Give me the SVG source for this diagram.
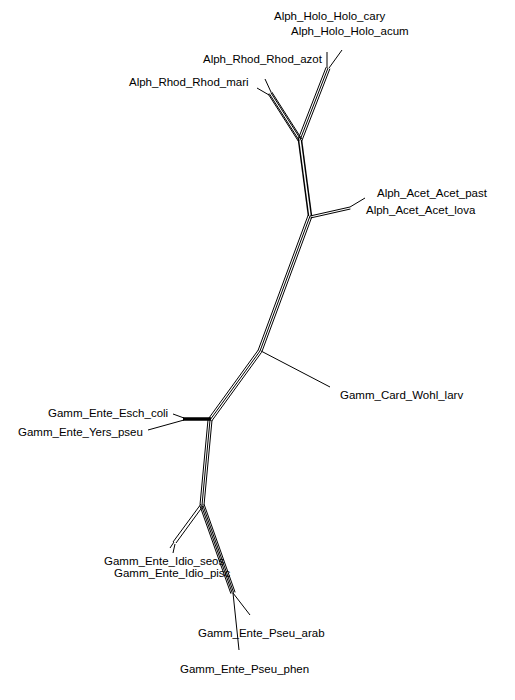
<svg xmlns="http://www.w3.org/2000/svg" width="515" height="700" viewBox="0 0 515 700">
<style>
.e{stroke:#000;stroke-width:1;fill:none}
.t{stroke:#000;stroke-width:1.5;fill:none}
.k{stroke:#000;stroke-width:3.5;fill:none}
text{font-family:"Liberation Sans",Arial,sans-serif;font-size:11.5px;fill:#000}
</style>
<rect width="515" height="700" fill="#fff"/>
<g id="connectors">
<!-- Holo bundle -->
<line class="e" x1="298.1" y1="139.3" x2="326.1" y2="67.3"/>
<line class="e" x1="300" y1="140" x2="328" y2="68"/>
<line class="e" x1="301.9" y1="140.7" x2="329.9" y2="68.7"/>
<line class="e" x1="327" y1="68" x2="327" y2="52"/>
<line class="e" x1="329" y1="68" x2="342" y2="50"/>
<!-- Rhod bundle -->
<line class="e" x1="298.3" y1="141.1" x2="268.3" y2="94.1"/>
<line class="e" x1="299.2" y1="140.5" x2="269.2" y2="93.5"/>
<line class="e" x1="300.8" y1="139.5" x2="270.8" y2="92.5"/>
<line class="e" x1="301.7" y1="138.9" x2="271.7" y2="91.9"/>
<line class="e" x1="271" y1="92" x2="265" y2="79"/>
<line class="e" x1="269" y1="95" x2="257" y2="88"/>
<!-- A to B -->
<line class="t" x1="298.5" y1="140" x2="308.5" y2="216"/>
<line class="t" x1="301.5" y1="140" x2="311.5" y2="216"/>
<!-- Acet bundle -->
<line class="e" x1="310" y1="216" x2="350" y2="207"/>
<line class="e" x1="310.4" y1="218" x2="350.4" y2="209"/>
<line class="e" x1="350" y1="207" x2="365" y2="198"/>
<!-- B to C -->
<line class="e" x1="308.1" y1="215.3" x2="258.1" y2="350.3"/>
<line class="e" x1="310" y1="216" x2="260" y2="351"/>
<line class="e" x1="311.9" y1="216.7" x2="261.9" y2="351.7"/>
<!-- Wohl -->
<line class="e" x1="261" y1="351" x2="330" y2="387"/>
<!-- C to D -->
<line class="e" x1="258.4" y1="349.8" x2="208.4" y2="418.8"/>
<line class="e" x1="260" y1="351" x2="210" y2="420"/>
<line class="e" x1="261.6" y1="352.2" x2="211.6" y2="421.2"/>
<!-- Ente Esch/Yers -->
<line class="k" x1="211" y1="419" x2="183" y2="419"/>
<line class="e" x1="184" y1="418" x2="173" y2="414"/>
<line class="e" x1="184" y1="420" x2="148" y2="430"/>
<!-- D to E -->
<line class="e" x1="208" y1="419.8" x2="200" y2="504.8"/>
<line class="e" x1="210" y1="420" x2="202" y2="505"/>
<line class="e" x1="212" y1="420.2" x2="204" y2="505.2"/>
<!-- Idio -->
<line class="e" x1="201" y1="504" x2="173" y2="542"/>
<line class="e" x1="203" y1="506" x2="176" y2="543"/>
<line class="e" x1="174" y1="542" x2="170" y2="548"/>
<line class="e" x1="175" y1="544" x2="173" y2="553"/>
<!-- Pseu -->
<line class="e" x1="199.9" y1="505.7" x2="230.9" y2="593.7"/>
<line class="e" x1="201.3" y1="505.2" x2="232.3" y2="593.2"/>
<line class="e" x1="202.7" y1="504.8" x2="233.7" y2="592.8"/>
<line class="e" x1="204.1" y1="504.3" x2="235.1" y2="592.3"/>
<line class="e" x1="233" y1="593" x2="250" y2="615"/>
<line class="e" x1="233" y1="593" x2="239" y2="650"/>
</g>
<g id="Alph_Holo_Holo_cary"><text x="274" y="20">Alph_Holo_Holo_cary</text></g>
<g id="Alph_Holo_Holo_acum"><text x="291" y="35">Alph_Holo_Holo_acum</text></g>
<g id="Alph_Rhod_Rhod_azot"><text x="203" y="63">Alph_Rhod_Rhod_azot</text></g>
<g id="Alph_Rhod_Rhod_mari"><text x="129" y="86">Alph_Rhod_Rhod_mari</text></g>
<g id="Alph_Acet_Acet_past"><text x="377" y="197">Alph_Acet_Acet_past</text></g>
<g id="Alph_Acet_Acet_lova"><text x="366" y="214">Alph_Acet_Acet_lova</text></g>
<g id="Gamm_Card_Wohl_larv"><text x="340" y="399">Gamm_Card_Wohl_larv</text></g>
<g id="Gamm_Ente_Esch_coli"><text x="48" y="417">Gamm_Ente_Esch_coli</text></g>
<g id="Gamm_Ente_Yers_pseu"><text x="18" y="436">Gamm_Ente_Yers_pseu</text></g>
<g id="Gamm_Ente_Idio_seos"><text x="104" y="565">Gamm_Ente_Idio_seos</text></g>
<g id="Gamm_Ente_Idio_pisc"><text x="114" y="577">Gamm_Ente_Idio_pisc</text></g>
<g id="Gamm_Ente_Pseu_arab"><text x="198" y="637">Gamm_Ente_Pseu_arab</text></g>
<g id="Gamm_Ente_Pseu_phen"><text x="180" y="673">Gamm_Ente_Pseu_phen</text></g>
</svg>
